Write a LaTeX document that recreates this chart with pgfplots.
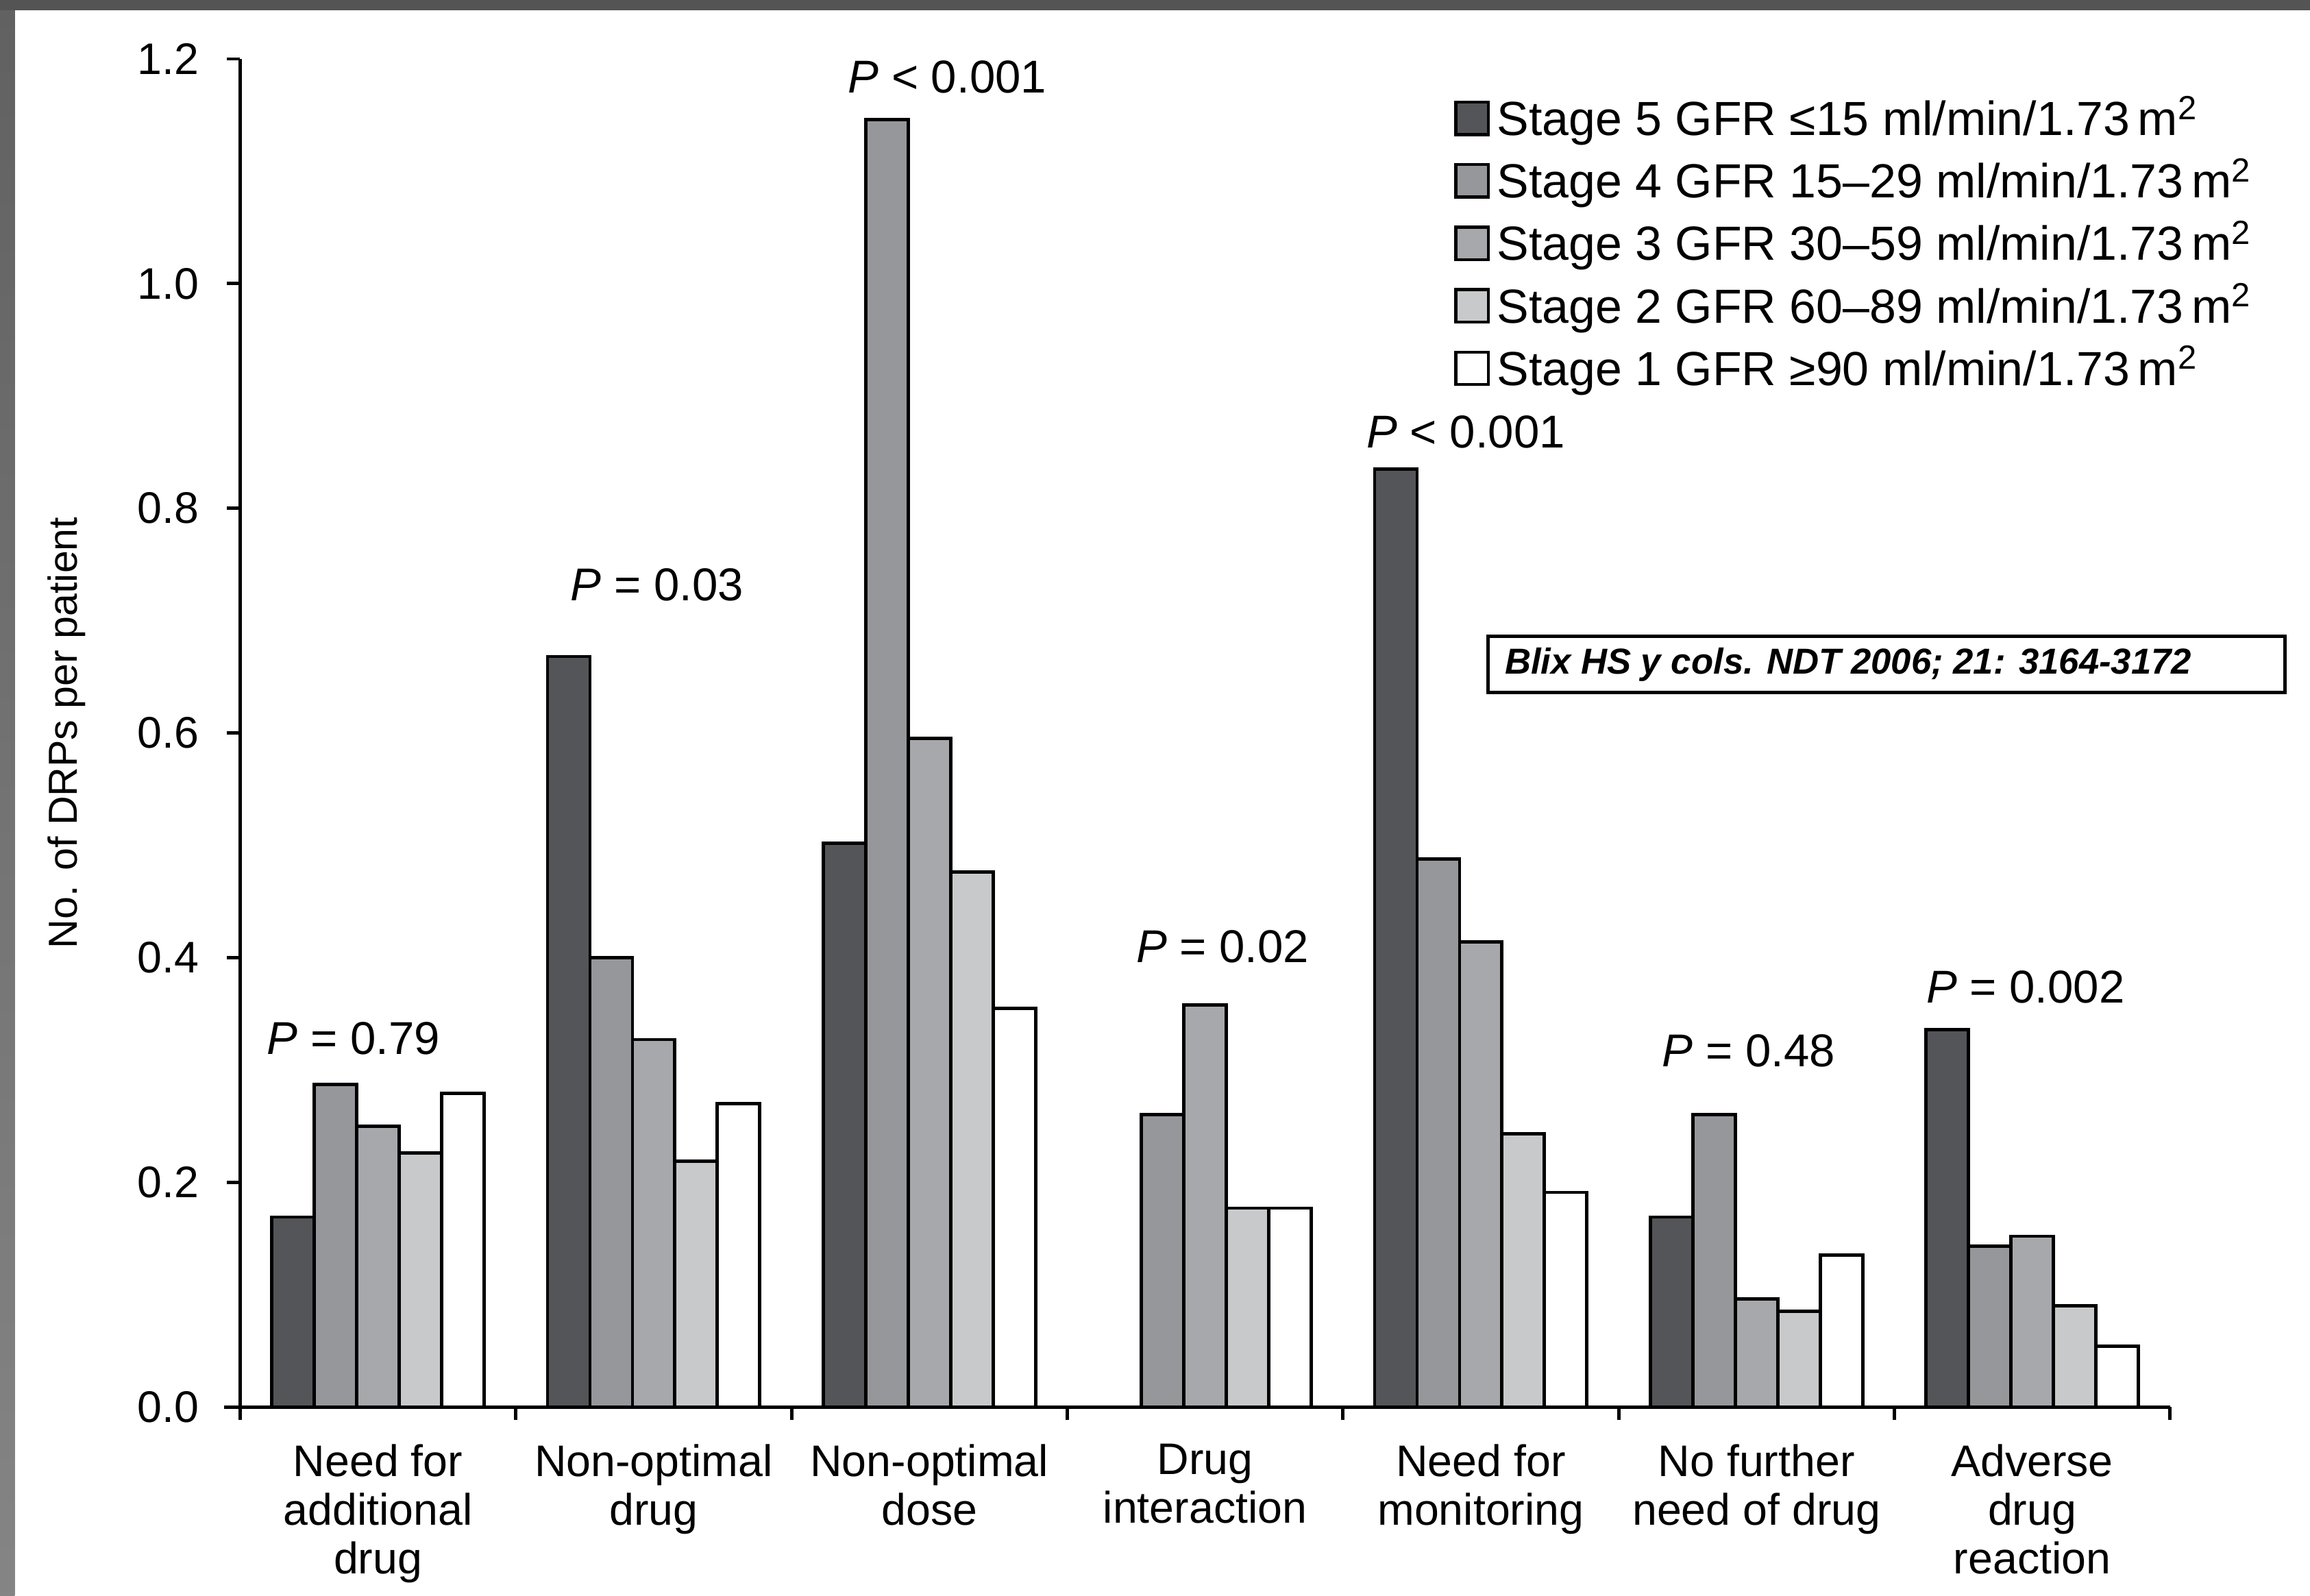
\documentclass[border=0pt]{standalone}
\usepackage{fontspec}
\setmainfont{Liberation Sans}
\usepackage{pgfplots}
\pgfplotsset{compat=1.18}
\usetikzlibrary{calc}

\definecolor{sfive}{RGB}{84,85,89}
\definecolor{sfour}{RGB}{150,151,155}
\definecolor{sthree}{RGB}{167,168,172}
\definecolor{stwo}{RGB}{200,201,203}
\definecolor{sone}{RGB}{255,255,255}
\definecolor{frametop}{RGB}{84,84,84}

\pgfplotsset{
  sqlegend/.style={legend image code/.code={\draw[##1,line width=0.8pt] (0pt,-4.4pt) rectangle (8.8pt,4.4pt);}},
  mybar/.style={fill=#1, draw=black, line width=0.9pt, sqlegend},
}

\newcommand{\pfont}{\fontsize{12.5}{15}\selectfont}

\begin{document}
\begin{tikzpicture}
\begin{axis}[
  scale only axis,
  width=524pt, height=366pt,
  xmin=-0.5, xmax=6.5, ymin=0, ymax=1.2,
  axis lines*=left,
  axis line style={line width=0.9pt},
  clip=false,
  ybar=0pt, bar width=0.154,
  tick align=outside,
  xtick={0,1,2,3,4,5,6},
  xticklabels={Need for\\additional\\drug, Non-optimal\\drug, Non-optimal\\dose, Drug\\interaction, Need for\\monitoring, No further\\need of drug, Adverse\\drug\\reaction},
  xticklabel style={align=center, font=\fontsize{12}{13.2}\selectfont, yshift=-3pt},
  minor xtick={-0.5,0.5,1.5,2.5,3.5,4.5,5.5,6.5},
  major x tick style={draw=none},
  minor x tick style={line width=0.9pt, black},
  minor tick length=3.6pt,
  major tick length=3.6pt,
  ytick={0,0.2,0.4,0.6,0.8,1.0,1.2},
  y tick style={line width=0.9pt, black},
  yticklabel style={font=\fontsize{12}{14}\selectfont, xshift=-4pt, /pgf/number format/fixed, /pgf/number format/fixed zerofill, /pgf/number format/precision=1, /pgf/number format/assume math mode=true},
  ylabel={No. of DRPs per patient},
  ylabel style={font=\fontsize{11}{13}\selectfont, at={(axis description cs:-0.09,0.5)}, anchor=center},
  legend style={at={(rel axis cs:0.623,0.984)}, anchor=north west, draw=none, fill=none, font=\fontsize{13}{15}\selectfont, row sep=0.75pt},
  legend cell align=left,
]
\addplot[mybar=sfive] coordinates {(0,0.169) (1,0.668) (2,0.502) (4,0.835) (5,0.169) (6,0.336)};
\addplot[mybar=sfour] coordinates {(0,0.287) (1,0.400) (2,1.146) (3,0.260) (4,0.488) (5,0.260) (6,0.143)};
\addplot[mybar=sthree] coordinates {(0,0.250) (1,0.327) (2,0.595) (3,0.358) (4,0.414) (5,0.096) (6,0.152)};
\addplot[mybar=stwo] coordinates {(0,0.226) (1,0.219) (2,0.476) (3,0.177) (4,0.243) (5,0.085) (6,0.090)};
\addplot[mybar=sone] coordinates {(0,0.279) (1,0.270) (2,0.355) (3,0.177) (4,0.191) (5,0.135) (6,0.054)};
\legend{Stage 5 GFR ≤15 ml/min/1.73\,m\textsuperscript{2},
        Stage 4 GFR 15–29 ml/min/1.73\,m\textsuperscript{2},
        Stage 3 GFR 30–59 ml/min/1.73\,m\textsuperscript{2},
        Stage 2 GFR 60–89 ml/min/1.73\,m\textsuperscript{2},
        Stage 1 GFR ≥90 ml/min/1.73\,m\textsuperscript{2}}

\node[font=\pfont] at (axis cs:-0.089,0.328) {\textit{P} = 0.79};
\node[font=\pfont] at (axis cs:1.012,0.732) {\textit{P} = 0.03};
\node[font=\pfont] at (axis cs:2.065,1.184) {\textit{P} < 0.001};
\node[font=\pfont] at (axis cs:3.064,0.410) {\textit{P} = 0.02};
\node[font=\pfont] at (axis cs:3.946,0.868) {\textit{P} < 0.001};
\node[font=\pfont] at (axis cs:4.972,0.317) {\textit{P} = 0.48};
\node[font=\pfont] at (axis cs:5.976,0.374) {\textit{P} = 0.002};

\draw[line width=0.8pt] (axis cs:4.026,0.636) rectangle (axis cs:6.917,0.686);
\node[anchor=west, font=\fontsize{9.8}{12}\selectfont\bfseries\itshape] at (axis cs:4.04,0.661) {Blix HS y cols. NDT 2006; 21: 3164-3172};

\coordinate (O) at (rel axis cs:0,0);
\end{axis}
\draw[line width=0.9pt] (O) -- ++(-4.4pt,0);
\pgfresetboundingbox
\path[use as bounding box] ($(O)+(-65.2pt,-51.2pt)$) rectangle ($(O)+(562pt,382pt)$);
\shade[top color=black!62, bottom color=black!48] ($(O)+(-65.2pt,-51.2pt)$) rectangle ($(O)+(-61.2pt,382pt)$);
\fill[frametop] ($(O)+(-65.2pt,379.2pt)$) rectangle ($(O)+(562pt,382pt)$);
\end{tikzpicture}
\end{document}
